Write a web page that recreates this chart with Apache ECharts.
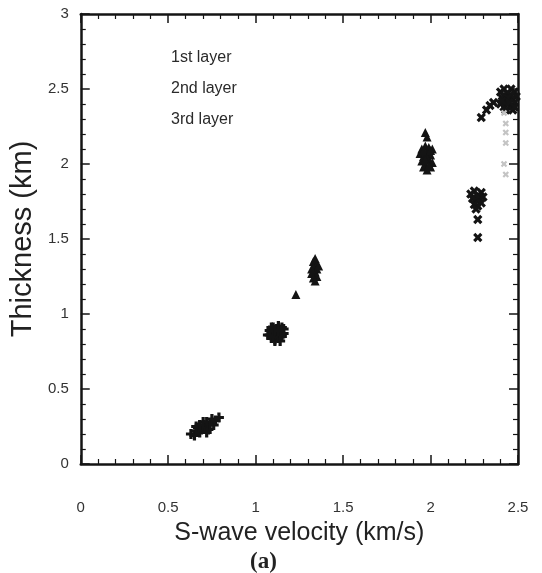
<!DOCTYPE html>
<html>
<head>
<meta charset="utf-8">
<script src="https://cdn.jsdelivr.net/npm/echarts@6/dist/echarts.min.js"></script>
<style>
  html, body { margin: 0; padding: 0; background: #fff; }
  #chart { width: 542px; height: 573px; }
</style>
</head>
<body>
<div id="chart"></div>
<script>
// Inverted layer models: S-wave velocity (km/s) vs. thickness (km)
const seriesNames = ['1st layer', '2nd layer', '3rd layer'];

// 1st layer solutions
const layer1 = [
  [0.63, 0.20], [0.65, 0.19], [0.66, 0.22], [0.67, 0.24], [0.68, 0.21],
  [0.69, 0.23], [0.70, 0.26], [0.71, 0.25], [0.72, 0.28], [0.73, 0.23],
  [0.74, 0.27], [0.75, 0.30], [0.76, 0.26], [0.77, 0.29], [0.79, 0.31],
  [0.70, 0.28], [0.66, 0.25], [0.72, 0.21], [0.68, 0.26],
  [1.07, 0.86], [1.08, 0.89], [1.09, 0.84], [1.10, 0.91], [1.10, 0.87],
  [1.11, 0.83], [1.12, 0.90], [1.12, 0.86], [1.13, 0.92], [1.13, 0.84],
  [1.14, 0.88], [1.15, 0.91], [1.15, 0.85], [1.16, 0.87], [1.11, 0.82],
  [1.14, 0.82], [1.09, 0.91], [1.16, 0.90], [1.08, 0.86], [1.12, 0.88],
  [1.10, 0.85], [1.14, 0.86], [1.11, 0.89], [1.13, 0.89]
];

// 2nd layer solutions
const layer2 = [
  [1.33, 1.35], [1.34, 1.37], [1.35, 1.33], [1.33, 1.31], [1.35, 1.30],
  [1.34, 1.28], [1.32, 1.27], [1.35, 1.25], [1.33, 1.24], [1.34, 1.22],
  [1.36, 1.32], [1.32, 1.30], [1.23, 1.13],
  [1.95, 2.10], [1.97, 2.12], [1.99, 2.11], [2.01, 2.10], [1.94, 2.07],
  [1.96, 2.05], [1.98, 2.07], [2.00, 2.06], [1.95, 2.02], [1.97, 2.00],
  [1.99, 2.03], [2.01, 2.01], [1.96, 1.98], [1.98, 1.96], [2.00, 1.98],
  [1.96, 2.09], [1.98, 2.04], [2.00, 2.09], [1.97, 2.03], [1.99, 1.99],
  [1.97, 2.21], [1.98, 2.18]
];

// 3rd layer solutions
const layer3 = [
  [2.23, 1.80], [2.25, 1.82], [2.27, 1.79], [2.29, 1.81], [2.24, 1.77],
  [2.26, 1.76], [2.28, 1.77], [2.30, 1.78], [2.25, 1.73], [2.27, 1.72],
  [2.26, 1.70], [2.29, 1.74], [2.27, 1.63], [2.27, 1.51],
  [2.29, 2.31], [2.32, 2.36], [2.34, 2.39], [2.36, 2.41],
  [2.40, 2.48], [2.42, 2.50], [2.44, 2.47], [2.46, 2.50], [2.48, 2.48],
  [2.41, 2.44], [2.43, 2.42], [2.45, 2.45], [2.47, 2.43], [2.49, 2.45],
  [2.40, 2.40], [2.42, 2.38], [2.44, 2.40], [2.46, 2.38], [2.48, 2.41],
  [2.43, 2.36], [2.47, 2.36], [2.42, 2.46], [2.46, 2.46], [2.44, 2.44],
  [2.41, 2.42], [2.45, 2.41], [2.48, 2.38]
];

// weaker 3rd layer solutions (drawn light)
const layer3Faint = [
  [2.42, 2.34], [2.43, 2.27], [2.43, 2.21], [2.43, 2.14], [2.42, 2.00], [2.43, 1.93]
];

const xTickValues = [0, 0.5, 1, 1.5, 2, 2.5];
const yTickValues = [0, 0.5, 1, 1.5, 2, 2.5, 3];

const plusPath = 'path://M3.4,0H6.6V3.4H10V6.6H6.6V10H3.4V6.6H0V3.4H3.4Z';
const ink = '#141414';

const axisBase = {
  type: 'value',
  interval: 0.5,
  splitLine: { show: false },
  axisLine: { show: true, onZero: false, lineStyle: { color: ink, width: 2.5 } },
  axisTick: { show: true, inside: true, length: 9, lineStyle: { color: ink, width: 1.5 } },
  minorTick: { show: true, splitNumber: 5, length: 5, lineStyle: { color: ink, width: 1.2 } },
  minorSplitLine: { show: false }
};

const chart = echarts.init(document.getElementById('chart'), null, { renderer: 'canvas' });
chart.setOption({
  backgroundColor: '#ffffff',
  animation: false,
  grid: { left: 76, right: 24, top: 14, bottom: 109 },
  legend: {
    data: seriesNames,
    orient: 'vertical',
    left: 160,
    top: 44,
    icon: 'none',
    itemWidth: 1,
    itemHeight: 17,
    itemGap: 14.5,
    selectedMode: false,
    textStyle: { fontFamily: 'Liberation Sans', fontSize: 16, color: '#2a2a2a' }
  },
  xAxis: [
    Object.assign({}, axisBase, {
      position: 'bottom',
      min: 0, max: 2.5,
      name: 'S-wave velocity (km/s)',
      nameLocation: 'middle',
      nameGap: 57,
      nameTextStyle: { fontFamily: 'Liberation Sans', fontSize: 25, color: '#222' },
      axisLabel: {
        margin: 36,
        fontFamily: 'Liberation Sans', fontSize: 15, color: '#333',
        formatter: v => xTickValues.includes(v) ? String(v) : ''
      }
    }),
    Object.assign({}, axisBase, {
      position: 'top', min: 0, max: 2.5,
      axisLabel: { show: false }
    })
  ],
  yAxis: [
    Object.assign({}, axisBase, {
      position: 'left',
      min: 0, max: 3,
      name: 'Thickness (km)',
      nameLocation: 'middle',
      nameGap: 30,
      nameTextStyle: { fontFamily: 'Liberation Sans', fontSize: 29, color: '#222' },
      axisLabel: {
        margin: 12,
        fontFamily: 'Liberation Sans', fontSize: 15, color: '#333',
        formatter: v => yTickValues.includes(v) ? String(v) : ''
      }
    }),
    Object.assign({}, axisBase, {
      position: 'right', min: 0, max: 3,
      axisLabel: { show: false }
    })
  ],
  series: [
    {
      name: seriesNames[0], type: 'scatter', data: layer1,
      symbol: plusPath, symbolSize: 10,
      itemStyle: { color: ink, opacity: 1 }
    },
    {
      name: seriesNames[1], type: 'scatter', data: layer2,
      symbol: 'triangle', symbolSize: 9,
      itemStyle: { color: ink, opacity: 1 }
    },
    {
      name: seriesNames[2], type: 'scatter', data: layer3,
      symbol: plusPath, symbolRotate: 45, symbolSize: 10,
      itemStyle: { color: ink, opacity: 1 }
    },
    {
      name: seriesNames[2], type: 'scatter', data: layer3Faint,
      symbol: plusPath, symbolRotate: 45, symbolSize: 7,
      itemStyle: { color: '#c4c4c4', opacity: 1 }
    }
  ],
  graphic: [
    {
      type: 'text', left: 250, top: 551,
      style: { text: '(a)', font: 'bold 23px "Liberation Serif"', fill: '#222' }
    }
  ]
});
</script>
</body>
</html>
